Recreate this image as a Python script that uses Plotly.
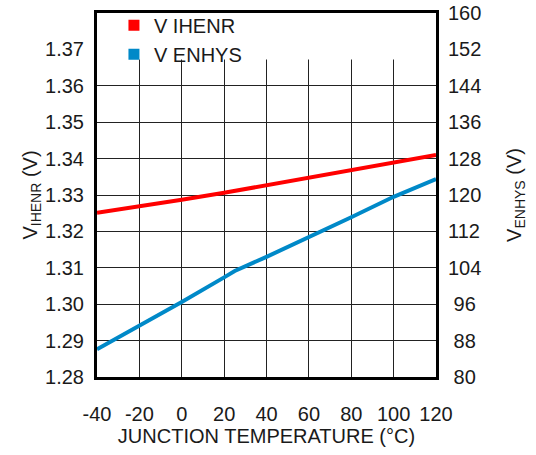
import plotly.graph_objects as go

# ---------------- data ----------------
temp_ihenr = [-40, -20, 0, 20, 40, 60, 80, 100, 120]
v_ihenr = [1.3251, 1.3268, 1.3287, 1.3306, 1.3327, 1.3348, 1.3369, 1.3390, 1.3410]

temp_enhys = [-40, -20, 0, 20, 25, 40, 60, 80, 100, 120]
v_enhys = [86.1, 91.2, 96.5, 101.9, 103.3, 106.4, 110.7, 115.1, 119.6, 123.5]

x_ticks = [-40, -20, 0, 20, 40, 60, 80, 100, 120]
y_left_ticks = [1.28, 1.29, 1.30, 1.31, 1.32, 1.33, 1.34, 1.35, 1.36, 1.37]
y_right_ticks = [80, 88, 96, 104, 112, 120, 128, 136, 144, 152, 160]

series_names = ["V IHENR", "V ENHYS"]
x_title = "JUNCTION TEMPERATURE (°C)"
y_left_title = "V<sub>IHENR</sub> (V)"
y_right_title = "V<sub>ENHYS</sub> (V)"

# axis ranges
X_RANGE = [-40, 120]
Y_RANGE = [1.28, 1.38]
Y2_RANGE = [80, 160]
LEGEND_BAND_BOTTOM = 1.3672   # grid is hidden above this level (legend band)

# ---------------- style ----------------
RED = "#ff0000"
BLUE = "#0089c8"
FONT = "Liberation Sans, Arial, sans-serif"
TXT = "#1a1a1a"
FS = 20

fig = go.Figure()
# white band hiding the grid behind the legend (drawn first, under data)
fig.add_trace(go.Scatter(
    x=[X_RANGE[0], X_RANGE[1], X_RANGE[1], X_RANGE[0], X_RANGE[0]],
    y=[LEGEND_BAND_BOTTOM, LEGEND_BAND_BOTTOM, Y_RANGE[1], Y_RANGE[1], LEGEND_BAND_BOTTOM],
    mode="none", fill="toself", fillcolor="white",
    hoverinfo="skip", showlegend=False, yaxis="y"))

fig.add_trace(go.Scatter(x=temp_ihenr, y=v_ihenr, mode="lines",
                         line=dict(color=RED, width=4), showlegend=False,
                         yaxis="y"))
fig.add_trace(go.Scatter(x=temp_enhys, y=v_enhys, mode="lines",
                         line=dict(color=BLUE, width=4), showlegend=False,
                         yaxis="y2"))
# legend entries (square swatches)
for name, col, ax in [(series_names[0], RED, "y"), (series_names[1], BLUE, "y2")]:
    fig.add_trace(go.Scatter(x=[None], y=[None], mode="markers", name=name,
                             marker=dict(symbol="square", size=11, color=col),
                             yaxis=ax))

x_text = [str(v) for v in x_ticks]  # plain hyphen minus
# right tick labels centred (pad 2-digit labels with a half-digit space)
right_text = [("\u00a0" + str(v)) if v < 100 else str(v) for v in y_right_ticks]

grid = dict(showgrid=True, gridcolor="#222222", gridwidth=1)
line = dict(showline=True, linecolor="black", linewidth=3, mirror=True)

fig.update_layout(
    width=536, height=455,
    margin=dict(l=97, r=100, t=13, b=78, autoexpand=False),
    paper_bgcolor="white", plot_bgcolor="white",
    font=dict(family=FONT, size=FS, color=TXT),
    showlegend=True,
    legend=dict(x=0.05, y=1.02, xanchor="left", yanchor="top",
                bgcolor="rgba(255,255,255,0)", borderwidth=0,
                font=dict(family=FONT, size=FS, color=TXT),
                tracegroupgap=0, itemwidth=30),
    xaxis=dict(range=X_RANGE, tickvals=x_ticks, ticktext=x_text, ticks="",
               ticklabelstandoff=17, zeroline=False, automargin=False,
               title=dict(text=x_title, standoff=5,
                          font=dict(family=FONT, size=FS, color=TXT)),
               **grid, **line),
    yaxis=dict(range=Y_RANGE, tickvals=y_left_ticks, tickformat=".2f",
               ticks="", ticklabelstandoff=6, zeroline=False, automargin=False,
               title=dict(text=y_left_title, standoff=3,
                          font=dict(family=FONT, size=FS, color=TXT)),
               **grid, **line),
    yaxis2=dict(range=Y2_RANGE, overlaying="y", side="right",
                tickvals=y_right_ticks, ticktext=right_text, ticks="",
                ticklabelstandoff=11, showgrid=False, zeroline=False,
                showline=False, automargin=False,
                title=dict(text=y_right_title, standoff=26,
                           font=dict(family=FONT, size=FS, color=TXT))),
)

fig.write_html("out.html",
               config={"displayModeBar": False},
               post_script="document.body.style.margin='0';"
                           "document.body.style.padding='0';")
